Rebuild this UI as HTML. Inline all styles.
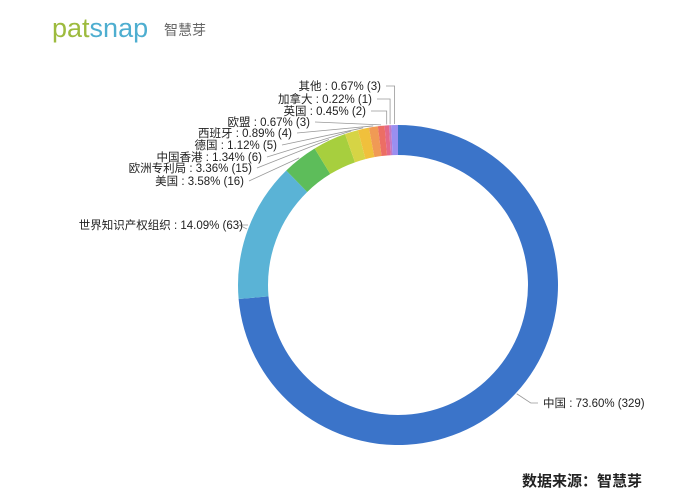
<!DOCTYPE html>
<html><head><meta charset="utf-8"><style>
body{margin:0;background:#fff;}
svg{display:block;font-family:"Liberation Sans","Noto Sans CJK SC",sans-serif;}
</style></head><body>
<svg width="680" height="502" viewBox="0 0 680 502">
<g>
<text x="52" y="37" font-size="27" fill="#9dbb3e">pat<tspan fill="#4eaed0">snap</tspan></text>
<text x="164" y="35" font-size="14" fill="#666">智慧芽</text>
</g>
<g id="slices"></g>
<g id="labels"></g>
<text x="642" y="486" font-size="15" font-weight="bold" fill="#222" text-anchor="end">数据来源：智慧芽</text>
</svg>
<script>
const categories=["中国","世界知识产权组织","美国","欧洲专利局","中国香港","德国","西班牙","欧盟","英国","加拿大","其他"];
const counts=[329,63,16,15,6,5,4,3,2,1,3];
const percents=["73.60%","14.09%","3.58%","3.36%","1.34%","1.12%","0.89%","0.67%","0.45%","0.22%","0.67%"];
const colors=["#3b74c9","#5ab3d6","#5dbd5a","#a7cf3e","#d6d445","#f0c03c","#f09a55","#ec6e64","#e3688a","#c27ac6","#9a8ff0"];
const labelAnchor=[[543,407],[243,229],[244,185],[252,172],[262,161],[277,149],[292,137],[310,126],[366,115],[372,103],[381,90]];
const cx=398,cy=285,R=160,r=130;
const total=counts.reduce((a,b)=>a+b,0);
const NS="http://www.w3.org/2000/svg";
const gS=document.getElementById('slices'),gL=document.getElementById('labels');
function pt(a,rad){return [cx+rad*Math.sin(a),cy-rad*Math.cos(a)];}
let acc=0;
counts.forEach((v,i)=>{
 const a0=acc/total*2*Math.PI;acc+=v;const a1=acc/total*2*Math.PI;
 const large=(a1-a0)>Math.PI?1:0;
 const p0=pt(a0,R),p1=pt(a1,R),q1=pt(a1,r),q0=pt(a0,r);
 const p=document.createElementNS(NS,'path');
 p.setAttribute('d',`M${p0}A${R},${R} 0 ${large} 1 ${p1}L${q1}A${r},${r} 0 ${large} 0 ${q0}Z`);
 p.setAttribute('fill',colors[i]);
 
 
 gS.appendChild(p);
 const am=(a0+a1)/2;const e=pt(am,R+1);
 const [lx,ly]=labelAnchor[i];
 const pl=document.createElementNS(NS,'polyline');
 let pts;
 if(i===0){pts=`${e} ${e[0]+14},${ly-4} ${lx-5},${ly-4}`;}
 else if(i>=8){pts=`${lx+5},${ly-4} ${e[0]},${ly-4} ${e[0]},${e[1]}`;}
 else if(i===1){pts=`${lx+5},${ly-4} ${e[0]-8},${ly-4} ${e[0]},${e[1]}`;}
 else{pts=`${lx+5},${ly-4} ${e[0]},${e[1]}`;}
 pl.setAttribute('points',pts);pl.setAttribute('fill','none');pl.setAttribute('stroke','#999');pl.setAttribute('stroke-width','0.8');
 
 
 gL.appendChild(pl);
 const t=document.createElementNS(NS,'text');
 t.setAttribute('x',lx);t.setAttribute('y',ly);t.setAttribute('font-size','11.5');t.setAttribute('fill','#222');
 t.setAttribute('text-anchor',i===0?'start':'end');
 t.textContent=`${categories[i]} : ${percents[i]} (${counts[i]})`;
 
 
 gL.appendChild(t);
});
</script>
</body></html>
